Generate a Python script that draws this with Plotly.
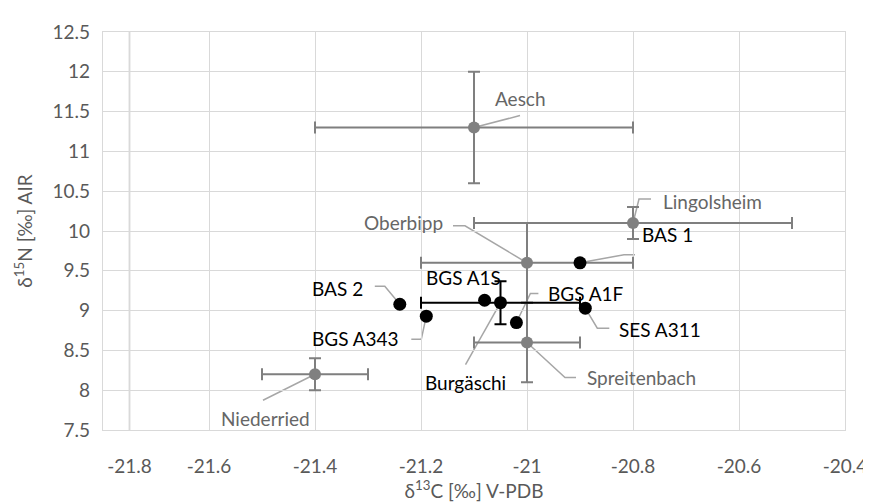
import plotly.graph_objects as go

# ---- data ----
site_names = ["Aesch", "Lingolsheim", "Oberbipp", "Spreitenbach", "Niederried"]
site_c = [-21.1, -20.8, -21.0, -21.0, -21.4]
site_n = [11.3, 10.1, 9.6, 8.6, 8.2]
site_c_err = [0.3, 0.3, 0.2, 0.1, 0.1]
site_n_err = [0.7, 0.2, 0.5, 0.5, 0.2]

ind_names = ["BAS 1", "BAS 2", "BGS A343", "BGS A1S", "BGS A1F", "SES A311"]
ind_c = [-20.90, -21.24, -21.19, -21.08, -21.02, -20.89]
ind_n = [9.60, 9.08, 8.93, 9.13, 8.85, 9.03]

burg_name = ["Burgäschi"]
burg_c = [-21.05]
burg_n = [9.10]
burg_c_err = [0.15]
burg_n_err = [0.27]

x_tick_vals = [-21.8, -21.6, -21.4, -21.2, -21.0, -20.8, -20.6, -20.4]
x_tick_text = ["-21.8", "-21.6", "-21.4", "-21.2", "-21", "-20.8", "-20.6", "-20.4"]
y_tick_vals = [7.5, 8, 8.5, 9, 9.5, 10, 10.5, 11, 11.5, 12, 12.5]
y_tick_text = ["7.5", "8", "8.5", "9", "9.5", "10", "10.5", "11", "11.5", "12", "12.5"]
axis_cross = -21.75

# ---- styles ----
GREY = "#808080"
GREY_TXT = "#666666"
LEADER = "#a6a6a6"
GRID = "#d9d9d9"
FONT = "Lato"
FS = 19

fig = go.Figure()

fig.add_trace(go.Scatter(
    x=site_c, y=site_n, mode="markers", name="sites",
    marker=dict(color=GREY, size=12),
    error_x=dict(type="data", array=site_c_err, color="#7f7f7f", thickness=2, width=6),
    error_y=dict(type="data", array=site_n_err, color="#7f7f7f", thickness=2, width=6),
    showlegend=False))

fig.add_trace(go.Scatter(
    x=burg_c, y=burg_n, mode="markers", name="Burgäschi",
    marker=dict(color="black", size=13),
    error_x=dict(type="data", array=burg_c_err, color="black", thickness=2, width=6),
    error_y=dict(type="data", array=burg_n_err, color="black", thickness=2, width=6),
    showlegend=False))

fig.add_trace(go.Scatter(
    x=ind_c, y=ind_n, mode="markers", name="individuals",
    marker=dict(color="black", size=13),
    showlegend=False))

# label placement: (text dx, dy, xanchor, leader path in px relative to point)
label_style = {
    "Aesch": (46, 29, "center", [(0, 0), (46, 12)]),
    "Lingolsheim": (28, 22, "left", [(0, 0), (6, 24), (18, 24)]),
    "Oberbipp": (-82, 40, "right", [(0, 0), (-62, 37), (-74, 37)]),
    "Spreitenbach": (58, -35, "left", [(0, 0), (38, -35), (49, -35)]),
    "Niederried": (-50, -44, "center", [(0, 0), (-52, -26)]),
    "BAS 1": (60, 28, "left", [(0, 0), (44, 8), (55, 8)]),
    "BAS 2": (-35, 16, "right", [(0, 0), (-15, 18), (-25, 18)]),
    "BGS A343": (-25, -22, "right", [(0, 0), (-5, -23), (-15, -23)]),
    "BGS A1S": (-21, 23, "center", None),
    "BGS A1F": (30, 29, "left", [(0, 0), (14, 29), (22, 29)]),
    "SES A311": (32, -21, "left", [(0, 0), (12, -20), (24, -20)]),
    "Burgäschi": (-35, -80, "center", [(0, 0), (-35, -62)]),
}

def add_label(name, x, y, color):
    dx, dy, xa, path = label_style[name]
    if path:
        d = "M " + " L ".join(f"{px} {py}" for px, py in path)
        fig.add_shape(type="path", path=d, xsizemode="pixel", ysizemode="pixel",
                      xanchor=x, yanchor=y, xref="x", yref="y",
                      line=dict(color=LEADER, width=1.5), layer="below")
    fig.add_annotation(x=x, y=y, text=name, showarrow=False, xanchor=xa, yanchor="middle",
                       xshift=dx, yshift=dy, font=dict(family=FONT, size=FS, color=color))

for n, x, y in zip(site_names, site_c, site_n):
    add_label(n, x, y, GREY_TXT)
for n, x, y in zip(ind_names, ind_c, ind_n):
    add_label(n, x, y, "black")
for n, x, y in zip(burg_name, burg_c, burg_n):
    add_label(n, x, y, "black")

# vertical axis crossing line
fig.add_shape(type="line", x0=axis_cross, x1=axis_cross, y0=0, y1=1, xref="x", yref="paper",
              line=dict(color="#bfbfbf", width=1.5), layer="below")

x_pos = [axis_cross] + x_tick_vals[1:]

fig.update_layout(
    width=871, height=502,
    margin=dict(l=95, r=26, t=23, b=77),
    paper_bgcolor="white", plot_bgcolor="white",
    font=dict(family=FONT, size=FS, color="#595959"),
    xaxis=dict(range=[-21.8, -20.4], tickvals=x_pos, ticktext=x_tick_text,
               showgrid=True, gridcolor=GRID, gridwidth=1.3, zeroline=False,
               showline=True, mirror=True, linecolor=GRID, linewidth=1.3,
               ticks="", ticklabelstandoff=19,
               title=dict(text="δ<sup>13</sup>C [‰] V-PDB", standoff=8,
                          font=dict(family=FONT, size=FS, color="#595959"))),
    yaxis=dict(range=[7.5, 12.5], tickvals=y_tick_vals, ticktext=y_tick_text,
               showgrid=True, gridcolor=GRID, gridwidth=1.3, zeroline=False,
               showline=True, mirror=True, linecolor=GRID, linewidth=1.3,
               ticks="", ticklabelstandoff=8,
               title=dict(text="δ<sup>15</sup>N [‰] AIR", standoff=14,
                          font=dict(family=FONT, size=FS, color="#595959"))),
)

fig.write_html("out.html")
